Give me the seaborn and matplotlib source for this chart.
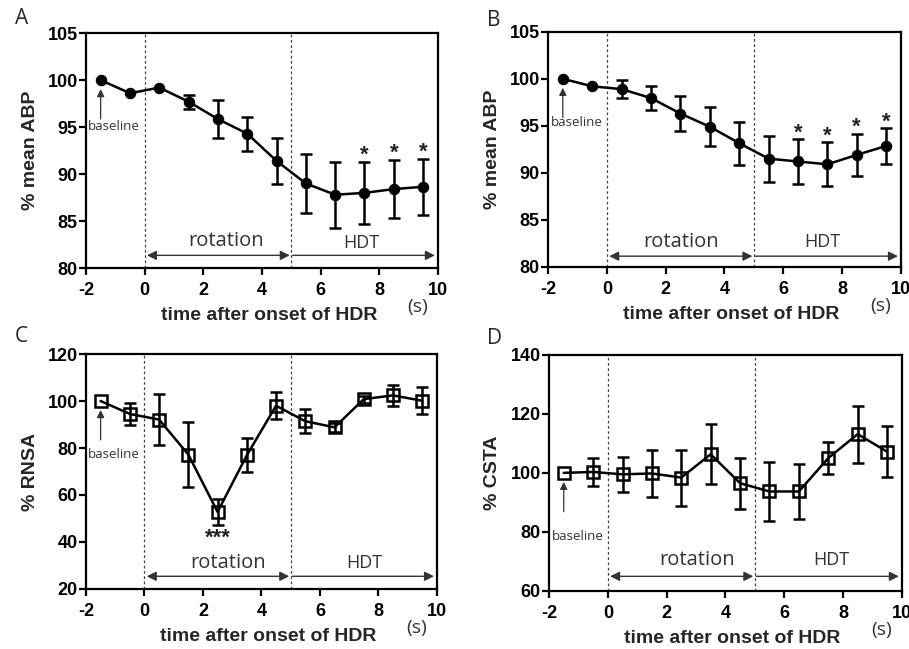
import numpy as np
import pandas as pd
import matplotlib
matplotlib.use('Agg')
import matplotlib.pyplot as plt
import seaborn as sns

# time bins (s after onset of HDR)
time = [-1.5, -0.5, 0.5, 1.5, 2.5, 3.5, 4.5, 5.5, 6.5, 7.5, 8.5, 9.5]

# A: % mean ABP (filled circles)
abp_a = [100.0, 98.6, 99.2, 97.7, 95.85, 94.3, 91.4, 89.0, 87.8, 88.0, 88.4, 88.65]
abp_a_err = [0, 0, 0, 0.75, 2.0, 1.8, 2.45, 3.1, 3.5, 3.3, 3.1, 3.0]
abp_a_sig = ['', '', '', '', '', '', '', '', '', '*', '*', '*']

# B: % mean ABP (filled circles)
abp_b = [100.0, 99.2, 98.9, 97.95, 96.3, 94.9, 93.15, 91.5, 91.2, 90.9, 91.9, 92.85]
abp_b_err = [0, 0, 0.95, 1.3, 1.9, 2.05, 2.3, 2.45, 2.35, 2.35, 2.25, 1.9]
abp_b_sig = ['', '', '', '', '', '', '', '', '*', '*', '*', '*']

# C: % RNSA (open squares)
rnsa = [100.0, 94.5, 92.1, 77.2, 52.8, 76.9, 98.0, 91.4, 88.8, 100.8, 102.4, 100.1]
rnsa_err = [0, 4.8, 10.7, 13.9, 5.5, 7.2, 5.7, 5.0, 1.9, 1.5, 4.5, 5.7]

# D: % CSTA (open squares)
csta = [100.0, 100.3, 99.5, 99.8, 98.4, 106.3, 96.5, 93.7, 93.7, 105.0, 113.1, 107.2]
csta_err = [0, 4.7, 5.9, 7.9, 9.5, 10.2, 8.6, 9.85, 9.4, 5.3, 9.7, 8.7]

xticks = [-2, 0, 2, 4, 6, 8, 10]

sns.set_style('ticks')
plt.rcParams['font.family'] = ['Liberation Sans', 'DejaVu Sans']
plt.rcParams['font.weight'] = 'bold'   # tick labels and axis labels are bold
plt.rcParams['axes.labelweight'] = 'bold'
plt.rcParams['axes.unicode_minus'] = False
plt.rcParams['axes.linewidth'] = 1.6

fig = plt.figure(figsize=(9.09, 6.49), dpi=100)

panels = [
    dict(letter='A', pos=[0.0946, 0.587, 0.387, 0.362], lpos=(0.0165, 0.972),
         y=abp_a, err=abp_a_err, sig=abp_a_sig, low='', ylim=(80, 105), yt=[80, 85, 90, 95, 100, 105],
         ylabel='% mean ABP', marker='o', base_y=95.1, rot=(2.79, 0.115), hdt=(7.39, 0.105), arr=0.054),
    dict(letter='B', pos=[0.603, 0.589, 0.388, 0.362], lpos=(0.536, 0.969),
         y=abp_b, err=abp_b_err, sig=abp_b_sig, low='', ylim=(80, 105), yt=[80, 85, 90, 95, 100, 105],
         ylabel='% mean ABP', marker='o', base_y=95.3, rot=(2.51, 0.105), hdt=(7.34, 0.105), arr=0.045),
    dict(letter='C', pos=[0.0946, 0.0925, 0.386, 0.362], lpos=(0.0165, 0.481),
         y=rnsa, err=rnsa_err, sig=None, low='***', ylim=(20, 120), yt=[20, 40, 60, 80, 100, 120],
         ylabel='% RNSA', marker='s', base_y=77.4, rot=(2.86, 0.11), hdt=(7.52, 0.11), arr=0.054),
    dict(letter='D', pos=[0.604, 0.0894, 0.388, 0.364], lpos=(0.536, 0.479),
         y=csta, err=csta_err, sig=None, low='', ylim=(60, 140), yt=[60, 80, 100, 120, 140],
         ylabel='% CSTA', marker='s', base_y=78.6, rot=(3.02, 0.13), hdt=(7.61, 0.13), arr=0.062),
]

for p in panels:
    ax = fig.add_axes(p['pos'])
    df = pd.DataFrame({'time': time, 'val': p['y'], 'err': p['err']})

    if p['marker'] == 'o':
        sns.lineplot(data=df, x='time', y='val', ax=ax, color='black', linewidth=1.8,
                     marker='o', markersize=7.5, markeredgecolor='black', zorder=3)
    else:
        sns.lineplot(data=df, x='time', y='val', ax=ax, color='black', linewidth=1.8,
                     marker='s', markersize=8, markerfacecolor='none',
                     markeredgecolor='black', markeredgewidth=1.8, zorder=3)

    e = df[df['err'] > 0]
    ax.errorbar(e['time'], e['val'], yerr=e['err'], fmt='none', ecolor='black',
                elinewidth=1.8, capsize=4.5, capthick=1.8, zorder=2)

    # significance marks
    if p['sig'] is not None:
        for t, v, er, s in zip(time, p['y'], p['err'], p['sig']):
            if s:
                ax.annotate(s, xy=(t, v + er), xytext=(0, -3), textcoords='offset points',
                            ha='center', va='bottom', fontsize=16, fontweight='bold', color='#222')
    if p['low']:
        i = int(np.argmin(p['y']))
        ax.annotate(p['low'], xy=(time[i], p['y'][i] - p['err'][i]), xytext=(0, -2),
                    textcoords='offset points', ha='center', va='top', fontsize=16,
                    fontweight='bold', color='#222')

    # phase markers
    for xv in [0, 5]:
        ax.axvline(xv, color='#444', linewidth=0.9, linestyle=(0, (2.2, 2)), zorder=1)
    tr = ax.get_xaxis_transform()
    ax.annotate('', xy=(0.08, p['arr']), xytext=(4.95, p['arr']), xycoords=tr, textcoords=tr,
                arrowprops=dict(arrowstyle='<|-|>', color='#333', lw=1.0, mutation_scale=14,
                                shrinkA=0, shrinkB=0))
    ax.annotate('', xy=(9.9, p['arr']), xytext=(5.05, p['arr']), xycoords=tr, textcoords=tr,
                arrowprops=dict(arrowstyle='-|>', color='#333', lw=1.0, mutation_scale=14,
                                shrinkA=0, shrinkB=0))
    ax.text(p['rot'][0], p['rot'][1], 'rotation', transform=tr, ha='center', va='center',
            fontsize=14.5, family='Open Sans', fontweight='normal', color='#333')
    ax.text(p['hdt'][0], p['hdt'][1], 'HDT', transform=tr, ha='center', va='center',
            fontsize=13, family='Open Sans', fontweight='normal', color='#333')

    # baseline arrow
    ax.annotate('', xy=(time[0], p['y'][0]), xytext=(0, -28), textcoords='offset points',
                arrowprops=dict(arrowstyle='-|>', color='#333', lw=0.9, mutation_scale=11,
                                shrinkA=0, shrinkB=6.5))
    ax.text(-1.92, p['base_y'], 'baseline', ha='left', va='center', fontsize=9.5,
            family='Open Sans', fontweight='normal', color='#333')

    for s in ax.spines.values():
        s.set_visible(True)
        s.set_linewidth(1.6)
        s.set_color('black')
    ax.tick_params(axis='both', direction='out', length=5, width=1.6, colors='black',
                   labelsize=13)
    ax.tick_params(axis='x', pad=5)
    ax.tick_params(axis='y', pad=1)

    ax.set_xlim(-2, 10)
    ax.set_xticks(xticks)
    ax.set_ylim(*p['ylim'])
    ax.set_yticks(p['yt'])

    ax.set_xlabel('time after onset of HDR', fontsize=14, fontweight='bold')
    ax.xaxis.set_label_coords(0.52, -0.165)
    ax.set_ylabel(p['ylabel'], fontsize=14, fontweight='bold')
    ax.yaxis.set_label_coords(-0.135, 0.5)
    ax.text(0.943, -0.165, '(s)', transform=ax.transAxes, ha='center', va='center',
            fontsize=14, family='Open Sans', fontweight='normal', color='#333')

    fig.text(p['lpos'][0], p['lpos'][1], p['letter'], ha='left', va='center',
             fontsize=15, family='Open Sans', fontweight='normal')

fig.savefig('out.png', dpi=100)
